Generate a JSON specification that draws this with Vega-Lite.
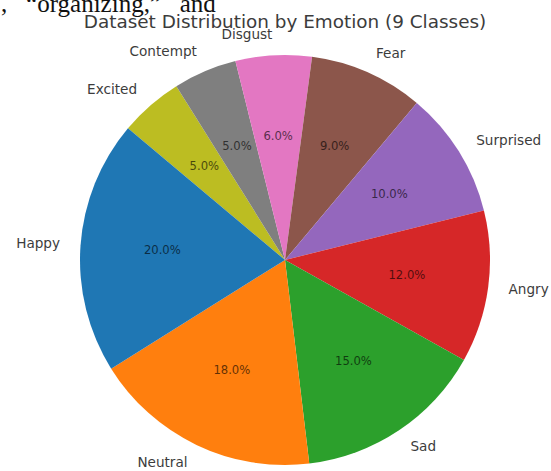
{
  "$schema": "https://vega.github.io/schema/vega-lite/v6.json",
  "padding": {"left": -10, "top": -8, "right": 0, "bottom": 0},
  "background": "white",
  "config": {"view": {"stroke": null}},
  "title": {
    "text": "”,\u00a0\u00a0 “organizing,”\u00a0\u00a0 and",
    "anchor": "start",
    "font": "Liberation Serif",
    "fontSize": 25,
    "fontWeight": "normal",
    "color": "#111111",
    "baseline": "alphabetic",
    "offset": -24,
    "dx": -10
  },
  "vconcat": [
    {
      "width": 570,
      "height": 442,
      "title": {
        "text": "Dataset Distribution by Emotion (9 Classes)",
        "anchor": "middle",
        "font": "DejaVu Sans",
        "fontSize": 18.4,
        "fontWeight": "normal",
        "color": "#3c3c3c",
        "baseline": "alphabetic",
        "offset": -19
      },
      "data": {
        "values": [
          {"emotion": "Excited", "share": 0.05, "order": 1},
          {"emotion": "Contempt", "share": 0.05, "order": 2},
          {"emotion": "Disgust", "share": 0.06, "order": 3},
          {"emotion": "Fear", "share": 0.09, "order": 4},
          {"emotion": "Surprised", "share": 0.10, "order": 5},
          {"emotion": "Angry", "share": 0.12, "order": 6},
          {"emotion": "Sad", "share": 0.15, "order": 7},
          {"emotion": "Neutral", "share": 0.18, "order": 8},
          {"emotion": "Happy", "share": 0.20, "order": 9}
        ]
      },
      "encoding": {
        "theta": {
          "field": "share",
          "type": "quantitative",
          "stack": true,
          "scale": {"range": [-0.872665, 5.410521]}
        },
        "order": {"field": "order", "type": "quantitative"}
      },
      "layer": [
        {
          "mark": {"type": "arc", "outerRadius": 205},
          "encoding": {
            "color": {
              "field": "emotion",
              "type": "nominal",
              "legend": null,
              "scale": {
                "domain": ["Happy", "Neutral", "Sad", "Angry", "Surprised", "Fear", "Disgust", "Contempt", "Excited"],
                "range": ["#1f77b4", "#ff7f0e", "#2ca02c", "#d62728", "#9467bd", "#8c564b", "#e377c2", "#7f7f7f", "#bcbd22"]
              }
            }
          }
        },
        {
          "mark": {
            "type": "text",
            "radius": 123,
            "font": "DejaVu Sans",
            "fontSize": 11.6,
            "fill": "#000000",
            "opacity": 0.62,
            "baseline": "middle",
            "align": "center"
          },
          "encoding": {
            "text": {"field": "share", "type": "quantitative", "format": ".1%"}
          }
        },
        {
          "mark": {
            "type": "text",
            "radius": 225.5,
            "font": "DejaVu Sans",
            "fontSize": 13.6,
            "fill": "#3c3c3c",
            "baseline": "middle",
            "align": {"expr": "indexof(['Fear','Surprised','Angry','Sad'], datum.emotion) >= 0 ? 'left' : 'right'"}
          },
          "encoding": {
            "text": {"field": "emotion", "type": "nominal"}
          }
        }
      ]
    }
  ]
}
